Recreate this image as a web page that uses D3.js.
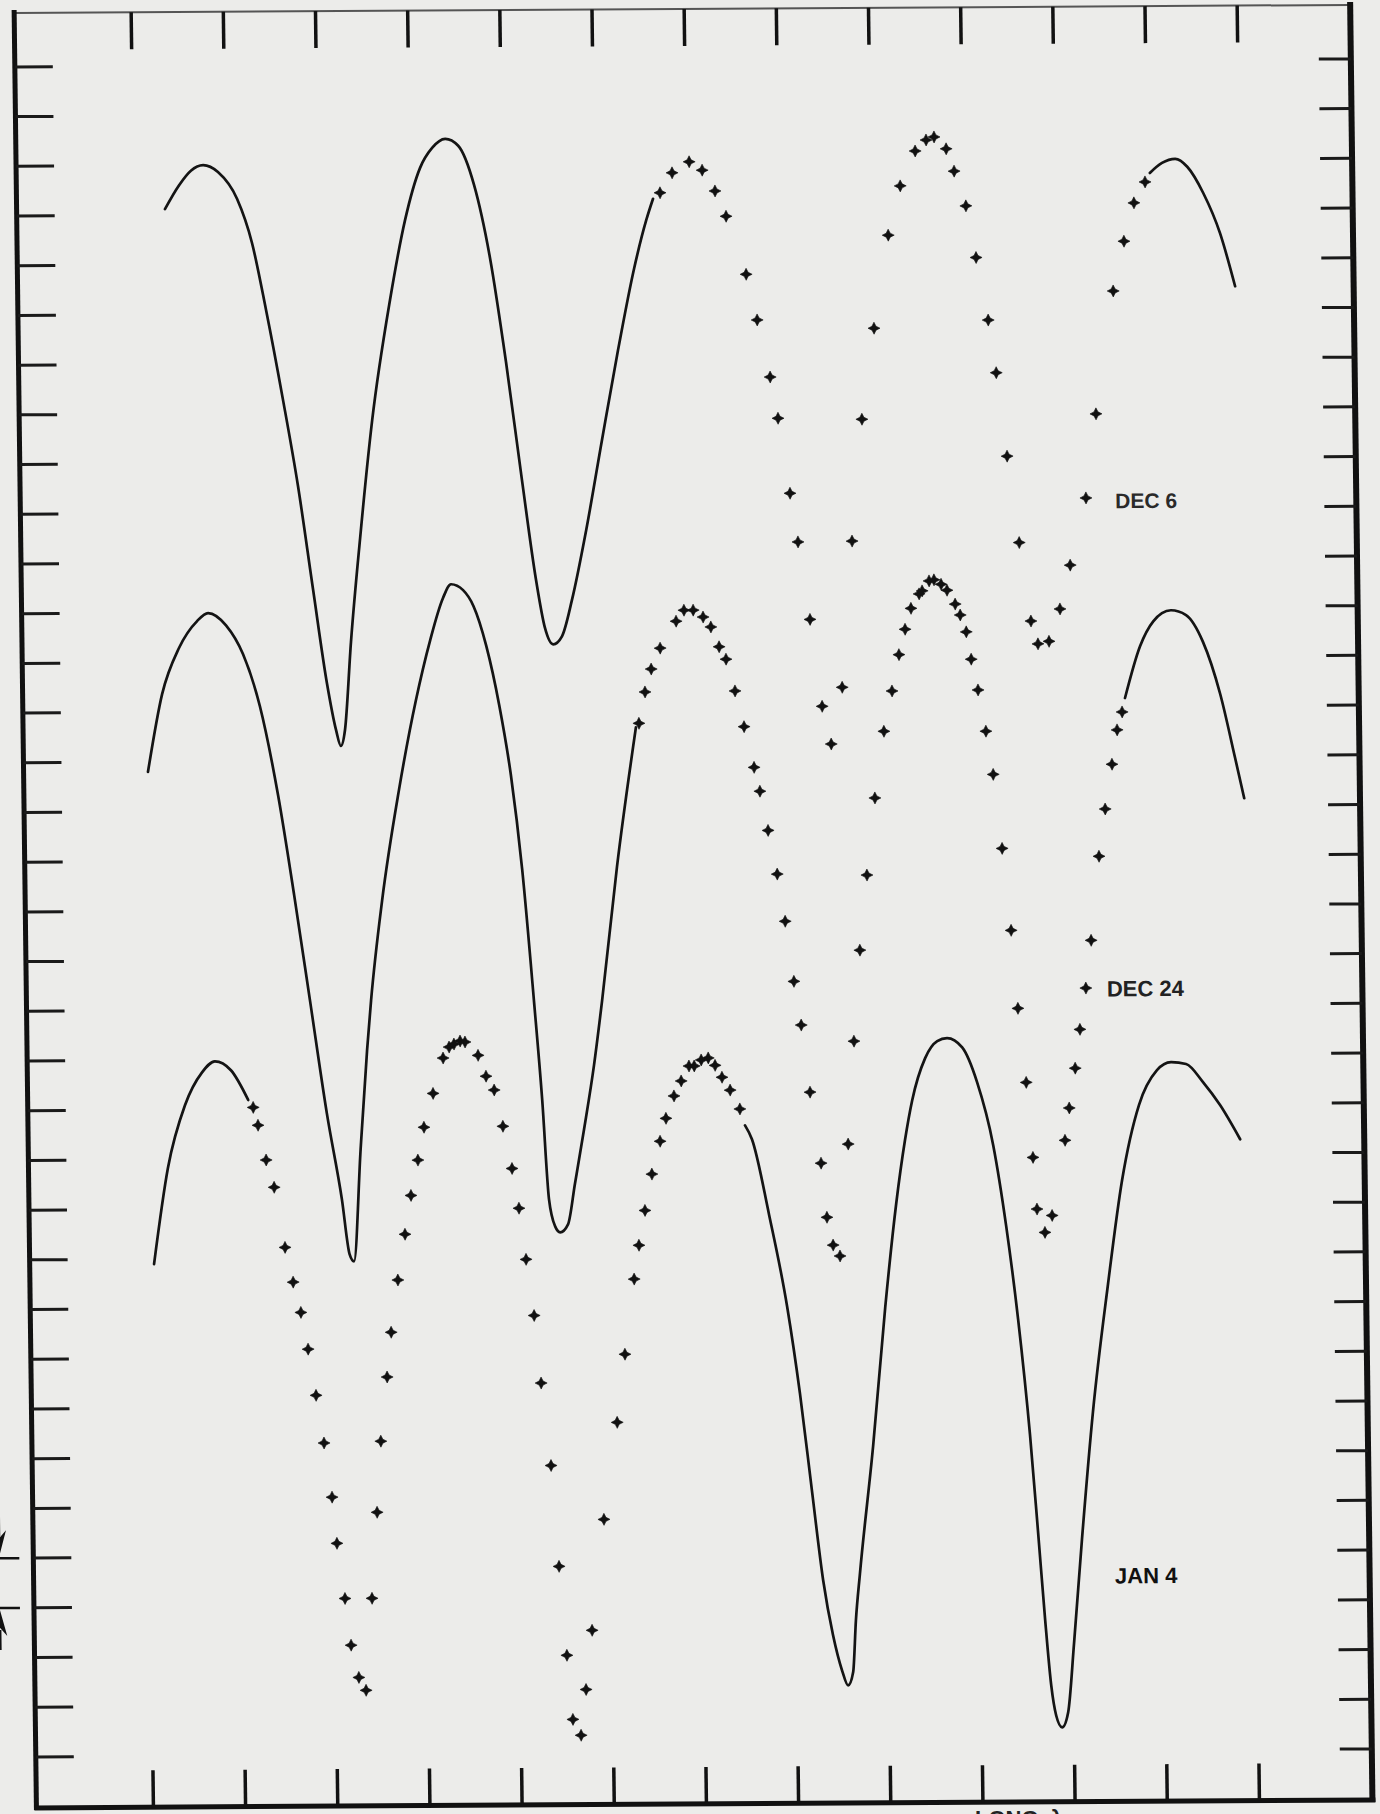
<!DOCTYPE html>
<html>
<head>
<meta charset="utf-8">
<script src="https://cdn.jsdelivr.net/npm/d3@7"></script>
<style>
  body { margin: 0; background: #ececea; }
  svg { display: block; }
</style>
</head>
<body>
<div id="chart"></div>
<script>
const WIDTH = 1380;
const HEIGHT = 1814;

// frame of the plot (before the scan tilt is applied)
const FRAME = { left: 14, right: 1350, top: 13, bottom: 1808 };

// longitude ticks (deg) and magnitude ticks (0.1 mag steps)
const lonTicks = d3.range(0, 361, 30);
const magTicks = d3.range(0, 35).map(i => +(i * 0.1).toFixed(1));
const scaleBar = [3.0, 3.1];

// ---------- DEC 6 ----------
const dec6LineA = [[10.2,0.288],[14.9,0.240],[18.8,0.211],[22.8,0.200],[27.6,0.214],[33.7,0.268],[38.4,0.357],[42.7,0.492],[47.8,0.671],[52.4,0.847],[56.9,1.056],[61.0,1.243],[63.8,1.338],[65.3,1.370],[66.7,1.338],[69.0,1.161],[72.4,0.952],[76.8,0.715],[83.1,0.473],[88.3,0.313],[93.4,0.208],[97.4,0.168],[101.7,0.150],[105.9,0.164],[110.9,0.243],[115.8,0.390],[120.6,0.600],[125.3,0.837],[129.5,1.039],[132.2,1.135],[134.8,1.168],[137.7,1.152],[141.1,1.079],[146.0,0.939],[151.5,0.758],[157.1,0.577],[162.7,0.412],[166.8,0.316],[169.1,0.273]];
const dec6Points = [[171.4,0.261],[175.4,0.221],[181.0,0.199],[185.2,0.216],[189.3,0.258],[192.8,0.309],[199.1,0.426],[202.5,0.518],[206.5,0.633],[208.9,0.716],[212.5,0.867],[214.9,0.965],[218.5,1.121],[222.1,1.296],[224.9,1.372],[228.7,1.258],[232.5,0.964],[236.2,0.719],[240.5,0.536],[245.5,0.349],[249.6,0.250],[254.6,0.180],[258.2,0.158],[260.8,0.152],[264.7,0.176],[267.2,0.221],[270.9,0.291],[274.0,0.395],[277.7,0.521],[280.1,0.627],[283.3,0.795],[286.9,0.969],[290.4,1.127],[292.6,1.173],[296.2,1.168],[299.9,1.103],[303.4,1.015],[308.8,0.880],[312.4,0.711],[318.5,0.464],[322.2,0.364],[325.6,0.287],[329.3,0.245]];
const dec6LineB = [[330.9,0.227],[334.9,0.207],[339.2,0.199],[343.1,0.215],[348.2,0.268],[353.5,0.349],[358.2,0.456]];

// ---------- DEC 24 ----------
const dec24LineA = [[2.4,1.420],[7.3,1.264],[13.0,1.171],[19.0,1.117],[22.6,1.101],[28.4,1.126],[33.8,1.184],[39.1,1.289],[44.7,1.470],[49.5,1.670],[54.2,1.881],[59.3,2.111],[63.8,2.282],[66.1,2.393],[67.5,2.407],[70.1,2.181],[72.6,1.982],[74.1,1.882],[78.1,1.681],[84.0,1.460],[89.9,1.279],[94.8,1.158],[99.1,1.074],[101.8,1.046],[105.7,1.058],[109.0,1.090],[113.0,1.170],[117.0,1.290],[120.5,1.430],[123.8,1.620],[127.1,1.884],[129.4,2.085],[131.2,2.284],[133.1,2.339],[134.7,2.351],[137.3,2.335],[139.7,2.254],[142.9,2.144],[146.4,2.015],[149.3,1.885],[154.7,1.615],[161.4,1.336]];
const dec24Points = [[162.4,1.328],[164.5,1.265],[166.6,1.219],[169.6,1.177],[174.9,1.123],[177.5,1.101],[180.5,1.101],[183.7,1.115],[186.2,1.135],[188.8,1.175],[191.0,1.200],[193.8,1.264],[196.6,1.336],[199.7,1.418],[201.5,1.466],[204.0,1.545],[206.8,1.633],[209.2,1.728],[211.8,1.849],[214.0,1.937],[216.6,2.072],[219.9,2.215],[221.6,2.324],[223.5,2.380],[225.7,2.402],[228.8,2.177],[231.1,1.970],[233.4,1.787],[236.0,1.636],[238.9,1.481],[242.1,1.347],[244.9,1.266],[247.3,1.193],[249.4,1.142],[251.4,1.100],[254.1,1.071],[255.1,1.065],[257.4,1.045],[259.0,1.043],[261.3,1.052],[263.2,1.064],[265.8,1.092],[267.4,1.114],[269.3,1.148],[270.8,1.203],[272.9,1.265],[275.3,1.348],[277.5,1.435],[280.1,1.584],[282.7,1.749],[284.6,1.906],[287.0,2.055],[288.9,2.206],[290.0,2.310],[292.5,2.357],[294.9,2.323],[299.4,2.172],[300.9,2.107],[303.0,2.027],[304.7,1.949],[306.8,1.866],[308.7,1.770],[311.6,1.601],[313.8,1.506],[316.2,1.416],[318.0,1.347],[319.7,1.311]];
const dec24LineB = [[320.7,1.283],[325.8,1.179],[330.2,1.129],[336.0,1.107],[340.9,1.117],[346.3,1.171],[351.7,1.276],[356.3,1.405],[359.1,1.486]];

// ---------- JAN 4 ----------
const jan4LineA = [[2.4,2.410],[7.3,2.217],[13.1,2.091],[18.8,2.025],[23.0,2.003],[28.2,2.021],[33.7,2.081]];
const jan4Points = [[35.3,2.096],[36.8,2.132],[39.3,2.202],[41.8,2.257],[45.1,2.378],[47.6,2.448],[50.0,2.509],[52.2,2.583],[54.6,2.676],[57.0,2.772],[59.4,2.881],[60.8,2.974],[63.2,3.085],[65.0,3.179],[67.4,3.244],[69.7,3.270],[72.0,3.085],[74.0,2.912],[75.5,2.769],[77.8,2.640],[79.3,2.550],[81.7,2.445],[84.2,2.353],[86.3,2.275],[88.7,2.204],[90.8,2.138],[93.9,2.070],[97.3,1.999],[99.3,1.977],[100.9,1.971],[102.9,1.965],[104.5,1.967],[108.7,1.994],[111.2,2.036],[113.8,2.064],[116.5,2.137],[119.3,2.222],[121.4,2.302],[123.5,2.405],[125.9,2.518],[127.9,2.654],[130.8,2.820],[133.0,3.023],[135.2,3.202],[136.9,3.331],[139.5,3.363],[141.3,3.271],[143.5,3.152],[147.8,2.929],[152.5,2.734],[155.3,2.597],[158.6,2.446],[160.3,2.378],[162.4,2.308],[164.8,2.235],[167.6,2.169],[169.6,2.123],[172.3,2.078],[174.7,2.048],[177.3,2.018],[179.0,2.018],[181.3,2.006],[183.6,2.002],[185.8,2.017],[188.0,2.041],[190.6,2.067],[193.7,2.105]];
const jan4LineB = [[195.3,2.138],[197.5,2.166],[202.8,2.319],[208.3,2.504],[212.1,2.678],[215.6,2.873],[218.9,3.054],[221.9,3.165],[224.7,3.236],[226.6,3.266],[228.3,3.239],[229.4,3.135],[230.9,3.041],[235.7,2.785],[240.2,2.506],[244.2,2.297],[247.3,2.170],[249.8,2.090],[254.2,2.005],[258.2,1.971],[261.4,1.965],[266.3,1.984],[271.0,2.054],[276.0,2.181],[279.9,2.344],[283.4,2.531],[286.8,2.763],[289.0,2.956],[291.0,3.137],[292.7,3.268],[294.2,3.329],[296.1,3.353],[298.1,3.323],[300.3,3.184],[303.3,2.975],[307.4,2.718],[312.8,2.462],[317.8,2.253],[323.6,2.102],[329.6,2.032],[334.2,2.016],[339.1,2.020],[344.6,2.057],[350.0,2.103],[356.4,2.172]];

// date labels, placed at (lon, mag)
const labels = [
  { text: "DEC 6", lon: 318.3, mag: 0.901, size: 21, color: "#2a2a2a" },
  { text: "DEC 24", lon: 313.6, mag: 1.883, size: 22, color: "#222" },
  { text: "JAN 4", lon: 313.9, mag: 3.064, size: 22, color: "#111" }
];

const svg = d3.select("#chart").append("svg")
  .attr("width", WIDTH)
  .attr("height", HEIGHT);

svg.append("rect").attr("width", WIDTH).attr("height", HEIGHT).attr("fill", "#ececea");

const x = d3.scaleLinear().domain([0, 360]).range([131, 1237]);
const y = d3.scaleLinear().domain([0, 3.4]).range([67, 1757]);

// the scanned sheet is a bit skewed
const g = svg.append("g").attr("transform", "matrix(1,-0.006,0.0124,1,0,0)");

// frame
g.append("line")
  .attr("x1", FRAME.left).attr("x2", FRAME.right)
  .attr("y1", FRAME.top).attr("y2", FRAME.top)
  .attr("stroke", "#555").attr("stroke-width", 2);
g.append("line")
  .attr("x1", FRAME.left).attr("x2", FRAME.left)
  .attr("y1", FRAME.top - 3).attr("y2", FRAME.bottom + 2)
  .attr("stroke", "#111").attr("stroke-width", 5);
g.append("line")
  .attr("x1", FRAME.right).attr("x2", FRAME.right)
  .attr("y1", FRAME.top - 3).attr("y2", FRAME.bottom + 2)
  .attr("stroke", "#111").attr("stroke-width", 6);
g.append("line")
  .attr("x1", FRAME.left - 2).attr("x2", FRAME.right + 3)
  .attr("y1", FRAME.bottom).attr("y2", FRAME.bottom)
  .attr("stroke", "#111").attr("stroke-width", 5);

// top and bottom ticks
g.selectAll(".tick-top").data(lonTicks).join("line")
  .attr("class", "tick-top")
  .attr("x1", d => x(d)).attr("x2", d => x(d))
  .attr("y1", FRAME.top).attr("y2", FRAME.top + 37)
  .attr("stroke", "#111").attr("stroke-width", 3.5);
g.selectAll(".tick-bottom").data(lonTicks).join("line")
  .attr("class", "tick-bottom")
  .attr("x1", d => x(d)).attr("x2", d => x(d))
  .attr("y1", FRAME.bottom - 37).attr("y2", FRAME.bottom)
  .attr("stroke", "#111").attr("stroke-width", 3.5);

// left and right ticks
g.selectAll(".tick-left").data(magTicks).join("line")
  .attr("class", "tick-left")
  .attr("x1", FRAME.left).attr("x2", FRAME.left + 38)
  .attr("y1", d => y(d)).attr("y2", d => y(d))
  .attr("stroke", "#1a1a1a").attr("stroke-width", 3);
g.selectAll(".tick-right").data(magTicks).join("line")
  .attr("class", "tick-right")
  .attr("x1", FRAME.right - 32).attr("x2", FRAME.right)
  .attr("y1", d => y(d)).attr("y2", d => y(d))
  .attr("stroke", "#1a1a1a").attr("stroke-width", 3);

// 0.1 mag scale bar with arrows, left of the frame
g.selectAll(".bar").data(scaleBar).join("line")
  .attr("class", "bar")
  .attr("x1", -22).attr("x2", 0)
  .attr("y1", d => y(d)).attr("y2", d => y(d))
  .attr("stroke", "#111").attr("stroke-width", 2.5);
g.selectAll(".arrow").data(scaleBar).join("path")
  .attr("class", "arrow")
  .attr("transform", (d, i) => `translate(-20,${y(d) + (i === 0 ? -2 : 2)}) scale(1,${i === 0 ? 1 : -1})`)
  .attr("d", "M0,0 L-7,-26 L0,-18 L7,-26 Z M-1.2,-20 L-1.2,-40 L1.2,-40 L1.2,-20 Z")
  .attr("fill", "#111");

const line = d3.line()
  .x(d => x(d[0]))
  .y(d => y(d[1]))
  .curve(d3.curveMonotoneX);

const lines = [dec6LineA, dec6LineB, dec24LineA, dec24LineB, jan4LineA, jan4LineB];
g.selectAll(".curve").data(lines).join("path")
  .attr("class", "curve")
  .attr("d", line)
  .attr("fill", "none")
  .attr("stroke", "#141414")
  .attr("stroke-width", 2.7)
  .attr("stroke-linejoin", "round")
  .attr("stroke-linecap", "round");

// observed points drawn as little 4-point stars
const star = "M0,-6 L2,-2 L6,0 L2,2 L0,6 L-2,2 L-6,0 L-2,-2 Z";
const points = [].concat(dec6Points, dec24Points, jan4Points);
g.selectAll(".obs").data(points).join("path")
  .attr("class", "obs")
  .attr("transform", d => `translate(${x(d[0])},${y(d[1])})`)
  .attr("d", star)
  .attr("fill", "#111")
  .attr("stroke", "#111")
  .attr("stroke-width", 0.6)
  .attr("stroke-linejoin", "round");

g.selectAll(".label").data(labels).join("text")
  .attr("class", "label")
  .attr("x", d => x(d.lon))
  .attr("y", d => y(d.mag))
  .attr("font-family", "'Liberation Sans', Arial, sans-serif")
  .attr("font-weight", "bold")
  .attr("font-size", d => d.size)
  .attr("fill", d => d.color)
  .text(d => d.text);

// axis caption, mostly cut off by the page edge as on the scan
svg.append("text")
  .attr("x", 975)
  .attr("y", 1826)
  .attr("font-family", "'Liberation Sans', Arial, sans-serif")
  .attr("font-weight", "bold")
  .attr("font-size", 22)
  .attr("fill", "#222")
  .text("LONG. λ");
</script>
</body>
</html>
